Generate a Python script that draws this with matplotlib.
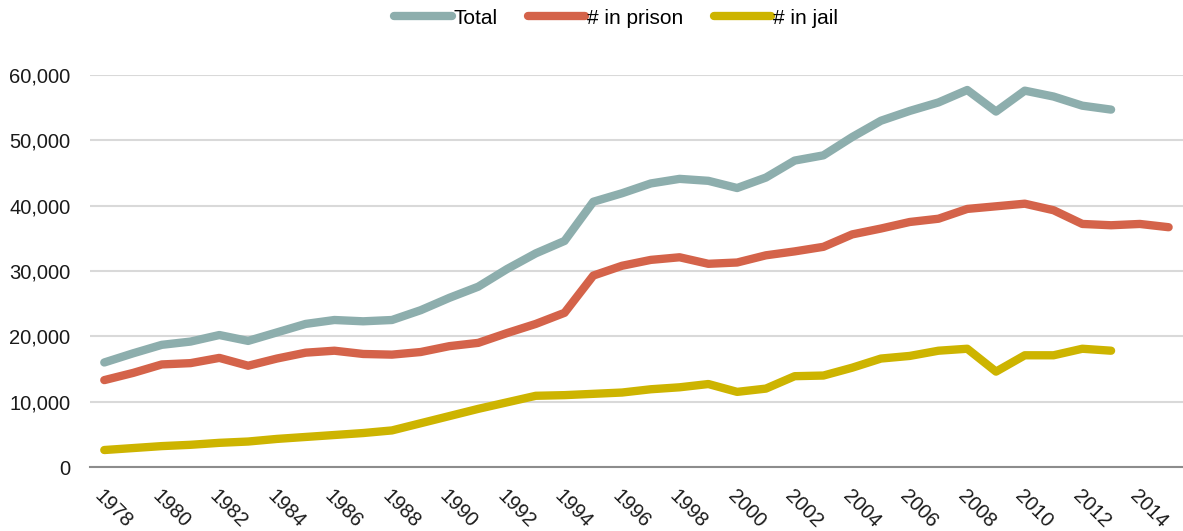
import matplotlib
matplotlib.use('Agg')
import matplotlib.pyplot as plt
import matplotlib.transforms as mtrans
from matplotlib.ticker import FuncFormatter

plt.rcParams['font.family'] = ['Liberation Sans', 'DejaVu Sans']

# años de la serie
anios_total = list(range(1978, 2014))
anios_prision = list(range(1978, 2016))

# valores (en personas)
total = [16000, 17400, 18700, 19200, 20200, 19300, 20600, 21900, 22500, 22300,
         22500, 24000, 25900, 27600, 30300, 32700, 34600, 40600, 41900, 43400,
         44100, 43800, 42700, 44300, 46900, 47700, 50500, 53000, 54500, 55800,
         57700, 54400, 57600, 56700, 55300, 54700]
prision = [13300, 14400, 15700, 15900, 16700, 15500, 16600, 17500, 17800, 17300,
           17200, 17600, 18500, 19000, 20500, 21900, 23600, 29300, 30800, 31700,
           32100, 31100, 31300, 32400, 33000, 33700, 35600, 36500, 37500, 38000,
           39500, 39900, 40300, 39300, 37200, 37000, 37200, 36700]
carcel = [2600, 2900, 3200, 3400, 3700, 3900, 4300, 4600, 4900, 5200,
          5600, 6700, 7800, 8900, 9900, 10900, 11000, 11200, 11400, 11900,
          12200, 12700, 11500, 12000, 13900, 14000, 15200, 16600, 17000, 17800,
          18100, 14600, 17100, 17100, 18100, 17800]

etiquetas_x = list(range(1978, 2015, 2))

fig = plt.figure(figsize=(11.83, 5.31), dpi=100)
ax = fig.add_axes([0.076, 0.1205, 0.924, 0.7383])

ancho = 6
ax.plot(anios_total, total, color='#8daead', lw=ancho, solid_capstyle='round',
        solid_joinstyle='round', label='Total', zorder=3)
ax.plot(anios_prision, prision, color='#d4634a', lw=ancho, solid_capstyle='round',
        solid_joinstyle='round', label='# in prison', zorder=3)
ax.plot(anios_total, carcel, color='#cdb400', lw=ancho, solid_capstyle='round',
        solid_joinstyle='round', label='# in jail', zorder=3)

ax.set_xlim(1977.5, 2015.5)
ax.set_ylim(0, 60000)
ax.set_yticks(range(0, 60001, 10000))
ax.yaxis.set_major_formatter(FuncFormatter(lambda v, p: f'{int(v):,}'))
ax.set_xticks(etiquetas_x)
ax.set_xticklabels([str(a) for a in etiquetas_x], rotation=-45,
                   ha='left', va='top', rotation_mode='anchor')
desplazar = mtrans.ScaledTranslation(-4 / 100, 0, fig.dpi_scale_trans)
for t in ax.get_xticklabels():
    t.set_transform(t.get_transform() + desplazar)

ax.tick_params(axis='both', length=0, labelsize=14.5, colors='#1a1a1a')
ax.tick_params(axis='y', pad=14)
ax.tick_params(axis='x', pad=14)

ax.grid(axis='y', color='#d9d9d9', lw=1.5, zorder=0)
for lado in ['top', 'right', 'left']:
    ax.spines[lado].set_visible(False)
ax.spines['bottom'].set_color('#8c8c8c')
ax.spines['bottom'].set_linewidth(1.5)
ax.spines['bottom'].set_zorder(2)

fig.legend(loc='center', bbox_to_anchor=(0.521, 0.966), ncol=3, frameon=False,
           fontsize=15, handlelength=2.75, handletextpad=0.1, columnspacing=1.45)

fig.savefig('out.png', dpi=100)
